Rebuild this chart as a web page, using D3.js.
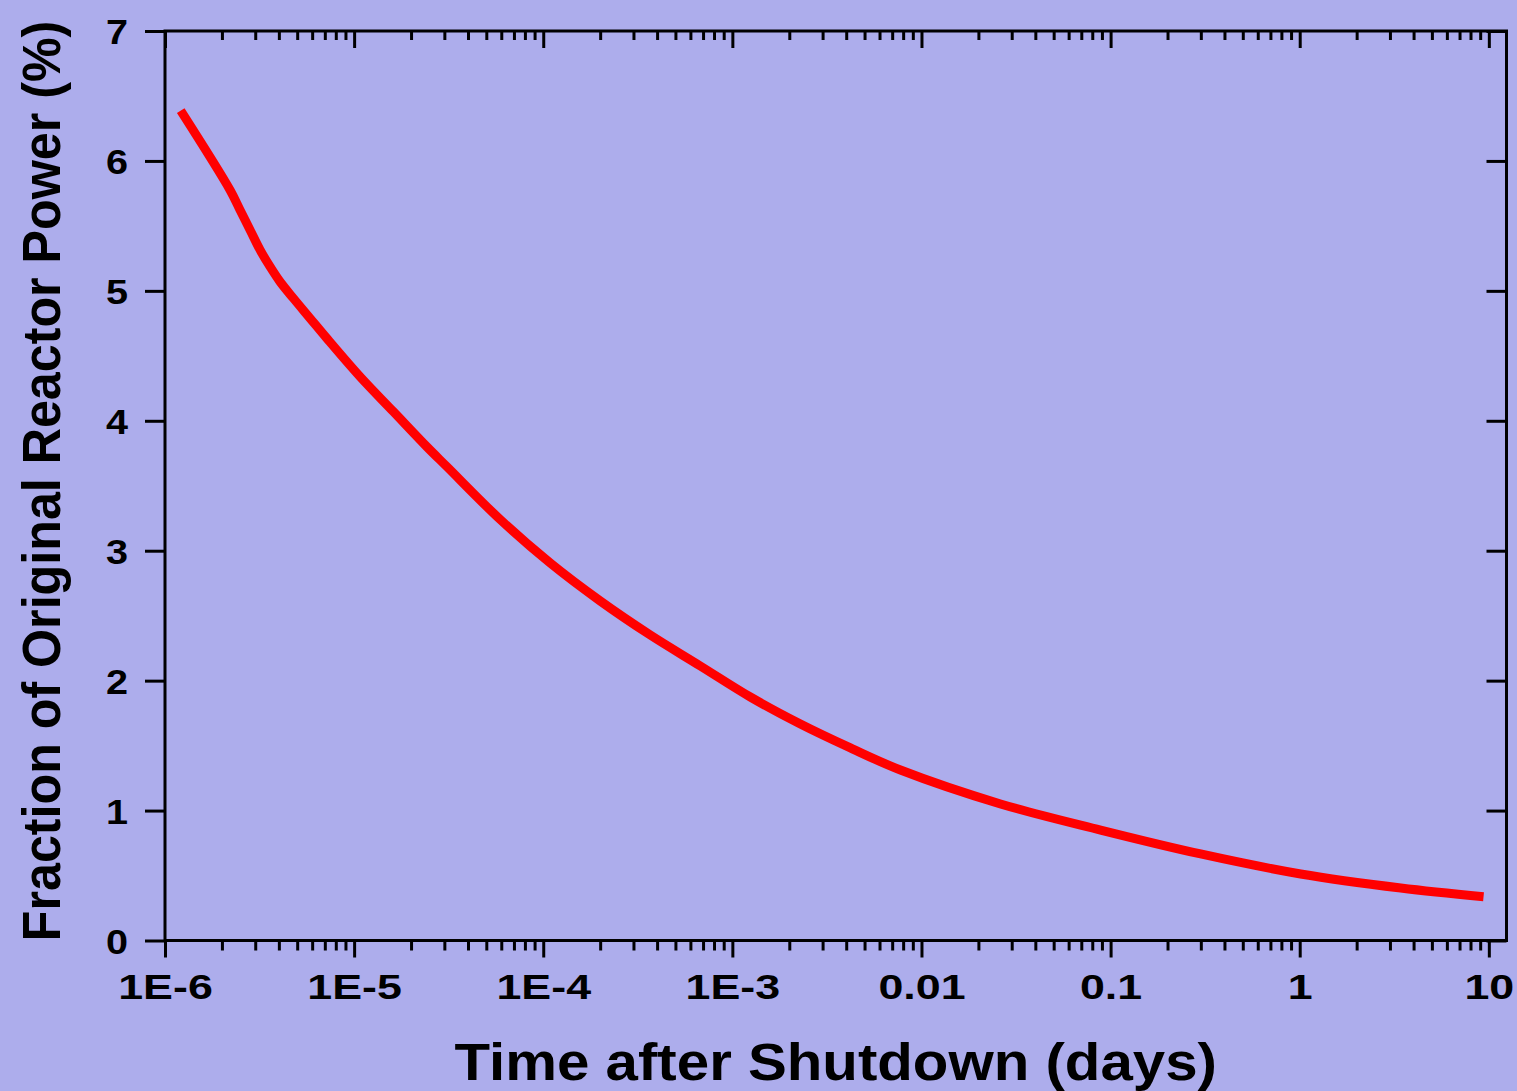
<!DOCTYPE html>
<html>
<head>
<meta charset="utf-8">
<script src="https://cdn.jsdelivr.net/npm/d3@7"></script>
<style>
  html, body { margin: 0; padding: 0; background: #adadec; }
  svg { display: block; }
  text { font-family: "Liberation Sans", Arial, sans-serif; font-weight: bold; fill: #000; }
</style>
</head>
<body>
<svg id="chart" width="1517" height="1091"></svg>
<script>
// Decay heat after shutdown: time (days) vs fraction of original power (%)
const timeDays = [1.211e-6, 2.207e-6, 2.493e-6, 2.817e-6, 3.182e-6, 3.594e-6, 4.060e-6,
                  4.773e-6, 5.85e-6, 7.17e-6, 1.076e-5, 1.614e-5, 2.424e-5, 3.094e-5,
                  5.923e-5, 1.089e-4, 2.002e-4, 3.682e-4, 6.771e-4, 1.245e-3,
                  2.290e-3, 4.210e-3, 7.743e-3, 0.02618, 0.08855, 0.2994, 1.012, 3.422, 9.376];
const powerPct = [6.387, 5.776, 5.622, 5.469, 5.315, 5.186, 5.070,
                  4.943, 4.789, 4.635, 4.339, 4.070, 3.800, 3.647,
                  3.240, 2.905, 2.613, 2.351, 2.113, 1.874,
                  1.666, 1.482, 1.312, 1.051, 0.850, 0.666, 0.512, 0.404, 0.337];

const xTickValues = [1e-6, 1e-5, 1e-4, 1e-3, 0.01, 0.1, 1, 10];
const xTickLabels = ["1E-6", "1E-5", "1E-4", "1E-3", "0.01", "0.1", "1", "10"];
const yTickValues = [0, 1, 2, 3, 4, 5, 6, 7];

const xTitle = "Time after Shutdown (days)";
const yTitle = "Fraction of Original Reactor Power (%)";

const svg = d3.select("#chart");
const plot = { left: 165, right: 1506.5, top: 31, bottom: 940.5 };

const x = d3.scaleLog().domain([1e-6, 12.4]).range([plot.left, plot.right]);
const y = d3.scaleLinear().domain([0, 7]).range([plot.bottom, plot.top]);

// minor ticks: 2..9 within each decade
const minorX = [];
for (let e = -6; e <= 0; e++) {
  for (let m = 2; m <= 9; m++) minorX.push(m * Math.pow(10, e));
}

const axisStroke = 3;

function styleAxis(g) {
  g.select(".domain").remove();
  g.selectAll(".tick line").attr("stroke", "#000").attr("stroke-width", axisStroke);
}

// bottom axis: outward ticks with labels
const gBottom = svg.append("g").attr("transform", `translate(0,${plot.bottom})`)
  .call(d3.axisBottom(x).tickValues(xTickValues).tickSize(17)
    .tickFormat((d, i) => xTickLabels[i]));
styleAxis(gBottom);
gBottom.selectAll(".tick text")
  .attr("y", 0).attr("dy", 0)
  .attr("font-size", 35)
  .attr("transform", "translate(0,58) scale(1.28,1)");

svg.append("g").attr("transform", `translate(0,${plot.bottom})`)
  .call(d3.axisBottom(x).tickValues(minorX).tickSize(10).tickFormat(""))
  .call(styleAxis);

// top axis: inward ticks
svg.append("g").attr("transform", `translate(0,${plot.top})`)
  .call(d3.axisBottom(x).tickValues(xTickValues).tickSize(17).tickFormat(""))
  .call(styleAxis);
svg.append("g").attr("transform", `translate(0,${plot.top})`)
  .call(d3.axisBottom(x).tickValues(minorX).tickSize(9).tickFormat(""))
  .call(styleAxis);

// left axis: outward ticks with labels
const gLeft = svg.append("g").attr("transform", `translate(${plot.left},0)`)
  .call(d3.axisLeft(y).tickValues(yTickValues).tickSize(20).tickFormat(d3.format("d")));
styleAxis(gLeft);
gLeft.selectAll(".tick text")
  .attr("x", 0).attr("dy", 0).attr("y", 0)
  .attr("text-anchor", "end")
  .attr("font-size", 36)
  .attr("transform", "translate(-37,12.5) scale(1.1,1)");

// right axis: inward ticks
svg.append("g").attr("transform", `translate(${plot.right},0)`)
  .call(d3.axisLeft(y).tickValues(yTickValues).tickSize(20).tickFormat(""))
  .call(g => {
    g.select(".domain").remove();
    g.selectAll(".tick line").attr("x2", -20).attr("stroke", "#000").attr("stroke-width", axisStroke);
  });

// frame
svg.append("rect")
  .attr("x", plot.left).attr("y", plot.top)
  .attr("width", plot.right - plot.left).attr("height", plot.bottom - plot.top)
  .attr("fill", "none").attr("stroke", "#000").attr("stroke-width", axisStroke);

// decay curve
const data = timeDays.map((t, i) => ({ t, p: powerPct[i] }));
const line = d3.line().x(d => x(d.t)).y(d => y(d.p)).curve(d3.curveCatmullRom.alpha(0.5));
svg.append("path")
  .datum(data)
  .attr("d", line)
  .attr("fill", "none")
  .attr("stroke", "#ff0000")
  .attr("stroke-width", 9)
  .attr("stroke-linecap", "butt")
  .attr("stroke-linejoin", "round");

// axis titles
svg.append("text")
  .attr("text-anchor", "middle")
  .attr("font-size", 52)
  .attr("transform", `translate(${(plot.left + plot.right) / 2},1080) scale(1.12,1)`)
  .text(xTitle);

svg.append("text")
  .attr("text-anchor", "middle")
  .attr("font-size", 54)
  .attr("transform", "translate(60,481) rotate(-90) scale(0.93,1)")
  .text(yTitle);
</script>
</body>
</html>
